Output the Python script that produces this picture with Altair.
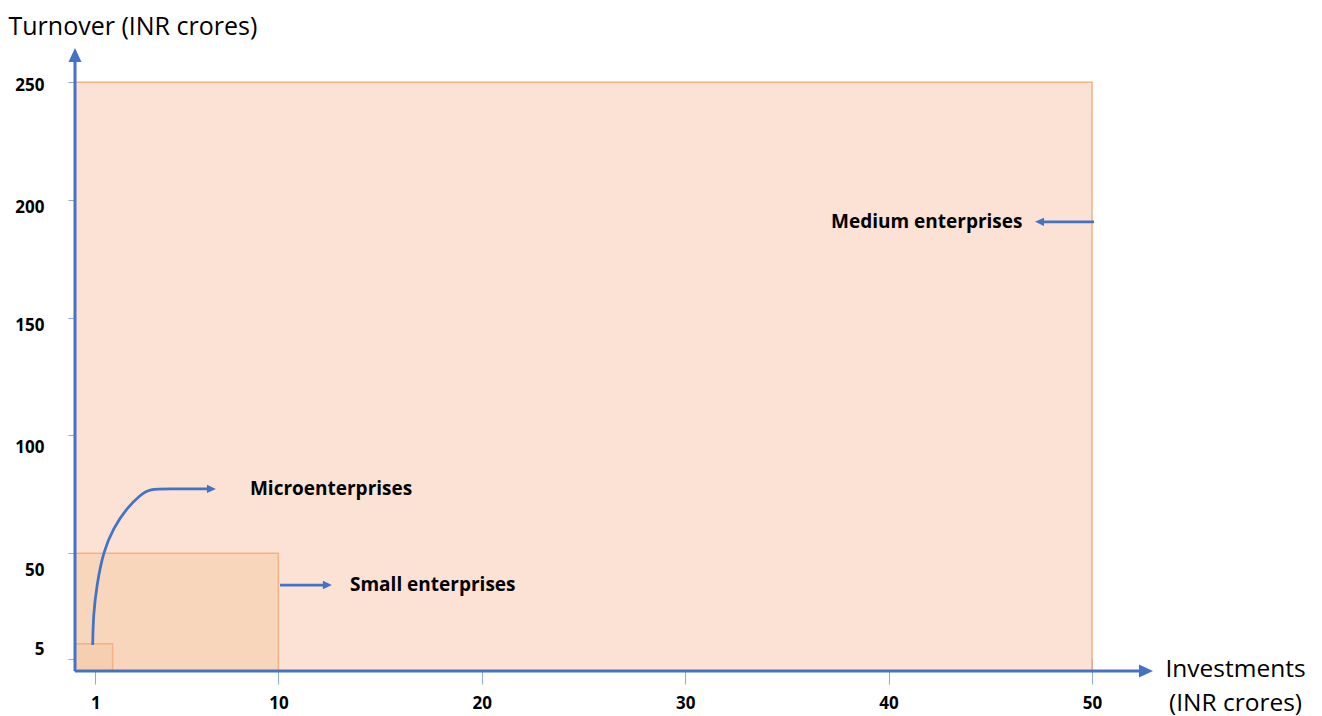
import altair as alt
import pandas as pd

# ---- data ----
classes = ["Medium enterprises", "Small enterprises", "Microenterprises"]
inv_start = [0, 0, 0]
inv_max = [50, 10, 1.85]        # investment limit as drawn (INR crores)
turn_start = [0, 0, 0]
turn_max = [250, 50, 11.6]      # turnover limit as drawn (INR crores)

x_ticks = [1, 10, 20, 30, 40, 50]
y_ticks = [5, 50, 100, 150, 200, 250]

# axis arrows (data units)
axis_x_end = 53
axis_y_end = 264.5
axis_line_x = [0, 0]
axis_line_x2 = [52.5, 0]
axis_line_y = [0, 0]
axis_line_y2 = [0, 259.5]
axis_head_x = [53, 0]
axis_head_y = [0, 264.5]
axis_head_dir = ["right", "up"]

# annotation arrows
micro_curve_x = [0.87, 0.90, 1.07, 1.39, 1.88, 2.54, 3.20, 3.69, 4.5, 6.70]
micro_curve_y = [11.0, 23.8, 36.5, 50.7, 60.6, 69.1, 74.7, 77.3, 77.3, 77.3]
small_arrow_x = [10.08, 12.38]
small_arrow_y = [36.5, 36.5]
medium_arrow_x = [50.1, 47.45]
medium_arrow_y = [190.7, 190.7]

head_x = [6.93, 12.63, 47.2]
head_y = [77.3, 36.5, 190.7]
head_dir = ["right", "right", "left"]

label_text = ["Microenterprises", "Small enterprises", "Medium enterprises"]
label_x = [8.6, 13.52, 37.17]
label_y = [77.3, 36.5, 190.7]

# ---- tables ----
rects = pd.DataFrame({"cls": classes, "x": inv_start, "x2": inv_max,
                      "y": turn_start, "y2": turn_max})
axis_lines = pd.DataFrame({"x": axis_line_x, "x2": axis_line_x2,
                           "y": axis_line_y, "y2": axis_line_y2})
axis_heads = pd.DataFrame({"x": axis_head_x, "y": axis_head_y, "dir": axis_head_dir})

rows = []
for name, xs_, ys_ in [("micro", micro_curve_x, micro_curve_y),
                       ("small", small_arrow_x, small_arrow_y),
                       ("medium", medium_arrow_x, medium_arrow_y)]:
    for i, (a, b) in enumerate(zip(xs_, ys_)):
        rows.append({"name": name, "i": i, "x": a, "y": b})
ann_lines = pd.DataFrame(rows)
ann_heads = pd.DataFrame({"x": head_x, "y": head_y, "dir": head_dir})
labels = pd.DataFrame({"text": label_text, "x": label_x, "y": label_y})

# ---- styling ----
BLUE = "#4472C4"
FONT = "Open Sans"
xs = alt.Scale(domain=[0, axis_x_end], nice=False, zero=False)
ys = alt.Scale(domain=[0, axis_y_end], nice=False, zero=False)

paths_domain = ["right", "left", "up"]
paths_range = ["M0,0L-2,-0.93L-2,0.93Z", "M0,0L2,-0.93L2,0.93Z", "M0,0L-0.93,2L0.93,2Z"]
shape_scale = alt.Scale(domain=paths_domain, range=paths_range)

x_axis = alt.Axis(
    values=x_ticks, orient="bottom", offset=-13, tickSize=26, domain=False,
    tickColor="#8EA9DB", tickWidth=1, labelPadding=11,
    labelFont=FONT, labelFontSize=17, labelFontWeight="bold", labelColor="black",
    title=["Investments", "(INR crores)"], titleFont=FONT, titleFontSize=24.5,
    titleFontWeight="normal", titleColor="black", titleX=1160, titleY=18,
    titleAlign="center", titleBaseline="alphabetic", titleLineHeight=34,
)
y_axis = alt.Axis(
    values=y_ticks, orient="left", offset=-7, tickSize=14, domain=False,
    tickColor="#8EA9DB", tickWidth=1, labelPadding=24,
    labelFont=FONT, labelFontSize=17, labelFontWeight="bold", labelColor="black",
    labelBaseline="middle",
    labelOffset={"condition": [
        {"test": "datum.value === 5", "value": -10},
        {"test": "datum.value === 50", "value": 17},
        {"test": "datum.value === 100", "value": 12},
        {"test": "datum.value === 250", "value": 3},
    ], "value": 8},
    title="Turnover (INR crores)", titleFont=FONT, titleFontSize=25,
    titleFontWeight="normal", titleColor="black", titleAngle=0,
    titleX=-74, titleY=-14, titleAlign="left", titleBaseline="alphabetic",
)

rect_layer = alt.Chart(rects).mark_rect(stroke="#F4B183", strokeWidth=1.5).encode(
    x=alt.X("x:Q", scale=xs, axis=x_axis),
    x2="x2:Q",
    y=alt.Y("y:Q", scale=ys, axis=y_axis),
    y2="y2:Q",
    color=alt.Color("cls:N", scale=alt.Scale(domain=classes,
                    range=["#FBE2D5", "#F7D6BC", "#F5CFAF"]), legend=None),
)

axis_rule_layer = alt.Chart(axis_lines).mark_rule(color=BLUE, strokeWidth=3).encode(
    x=alt.X("x:Q", scale=xs), x2="x2:Q",
    y=alt.Y("y:Q", scale=ys), y2="y2:Q",
)

axis_head_layer = alt.Chart(axis_heads).mark_point(
    filled=True, opacity=1, color=BLUE, size=196, strokeWidth=0
).encode(
    x=alt.X("x:Q", scale=xs), y=alt.Y("y:Q", scale=ys),
    shape=alt.Shape("dir:N", scale=shape_scale, legend=None),
)

ann_line_layer = alt.Chart(ann_lines).mark_line(
    color=BLUE, strokeWidth=2.75, interpolate="basis"
).encode(
    x=alt.X("x:Q", scale=xs), y=alt.Y("y:Q", scale=ys),
    detail="name:N", order="i:Q",
)

ann_head_layer = alt.Chart(ann_heads).mark_point(
    filled=True, opacity=1, color=BLUE, size=81, strokeWidth=0
).encode(
    x=alt.X("x:Q", scale=xs), y=alt.Y("y:Q", scale=ys),
    shape=alt.Shape("dir:N", scale=shape_scale, legend=None),
)

text_layer = alt.Chart(labels).mark_text(
    align="left", baseline="middle", font=FONT, fontWeight="bold",
    fontSize=19, color="black"
).encode(
    x=alt.X("x:Q", scale=xs), y=alt.Y("y:Q", scale=ys), text="text:N",
)

chart = alt.layer(
    rect_layer, axis_rule_layer, axis_head_layer, ann_line_layer,
    ann_head_layer, text_layer
).properties(
    width=1078, height=623,
    padding={"left": 67, "top": 40, "right": 161, "bottom": 45},
    autosize=alt.AutoSizeParams(type="none"),
    background="white",
).configure_view(stroke=None).configure_axis(grid=False)

chart.save("out.html", embed_options={"renderer": "svg", "actions": False})
